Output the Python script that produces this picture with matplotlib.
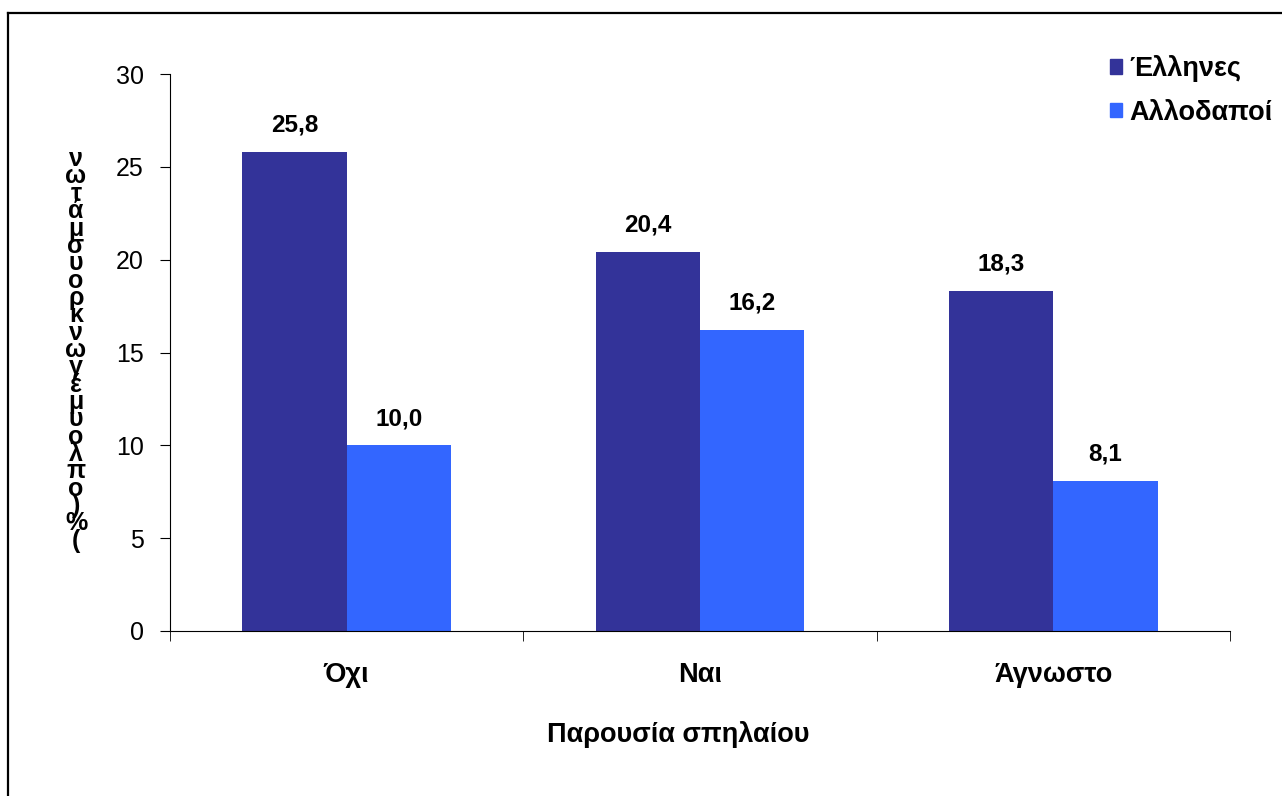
import matplotlib
matplotlib.use("Agg")
import matplotlib.pyplot as plt
from matplotlib.lines import Line2D

plt.rcParams['font.family'] = ['Liberation Sans', 'DejaVu Sans']

categories = ["Όχι", "Ναι", "Άγνωστο"]
series = ["Έλληνες", "Αλλοδαποί"]
greeks = [25.8, 20.4, 18.3]
foreigners = [10.0, 16.2, 8.1]
colors = ["#333399", "#3366FF"]
yticks = [0, 5, 10, 15, 20, 25, 30]
xlabel = "Παρουσία σπηλαίου"
# stacked vertical axis title, one glyph per row
ylabel_chars = ["ν", "ω", "τ", "ά", "μ", "σ", "υ", "ο", "ρ", "κ", "ν", "ω", "γ",
                "έ", "μ", "υ", "ο", "λ", "π", "ο", ")", "%", "("]

W, H = 1282, 796
fig = plt.figure(figsize=(W / 100, H / 100), dpi=100)

# outer frame (left and top edges)
fig.add_artist(Line2D([8 / W, 8 / W], [0, 1 - 13 / H], color="black", lw=1.6,
                      transform=fig.transFigure))
fig.add_artist(Line2D([8 / W, 1], [1 - 13 / H, 1 - 13 / H], color="black", lw=1.6,
                      transform=fig.transFigure))

x0, x1, ytop, ybot = 170, 1230, 74, 631
ax = fig.add_axes([x0 / W, 1 - ybot / H, (x1 - x0) / W, (ybot - ytop) / H])

bw = 0.295
xs = range(len(categories))
for i, (vals, name) in enumerate(zip([greeks, foreigners], series)):
    pos = [x + (i - 0.5) * bw for x in xs]
    bars = ax.bar(pos, vals, width=bw, color=colors[i], label=name, zorder=2)
    for b, v in zip(bars, vals):
        ax.annotate(f"{v:.1f}".replace(".", ","),
                    (b.get_x() + b.get_width() / 2, v),
                    xytext=(0, 11), textcoords="offset points",
                    ha="center", va="bottom", fontsize=17.5, fontweight="bold")

ax.set_xlim(-0.5, len(categories) - 0.5)
ax.set_ylim(0, 30)
ax.set_yticks(yticks)
ax.set_yticklabels([str(t) for t in yticks], fontsize=18)
ax.set_xticks(list(xs))
ax.set_xticklabels(categories, fontsize=19.5, fontweight="bold")
ax.set_xticks([-0.5, 0.5, 1.5, 2.5], minor=True)
ax.tick_params(axis="x", which="major", length=0, pad=22)
ax.tick_params(axis="x", which="minor", length=7, direction="out")
ax.tick_params(axis="y", length=7, direction="out", pad=12)

for s in ["top", "right"]:
    ax.spines[s].set_visible(False)
for s in ["left", "bottom"]:
    ax.spines[s].set_color("black")

fig.text(678 / W, 1 - 735 / H, xlabel, ha="center", va="center",
         fontsize=19.5, fontweight="bold")

fig.text(76 / W, 1 - 350 / H, "\n".join(ylabel_chars), ha="center", va="center",
         fontsize=18, fontweight="bold", linespacing=0.65)

handles = [plt.Rectangle((0, 0), 1, 1, color=c) for c in colors]
fig.legend(handles, series, loc="upper left", bbox_to_anchor=(1110 / W, 1 - 55 / H),
           frameon=False, borderpad=0, borderaxespad=0, handlelength=0.45,
           handleheight=0.45, handletextpad=0.25, labelspacing=0.65,
           prop={"size": 19.5, "weight": "bold"})

fig.savefig("out.png", dpi=100)
